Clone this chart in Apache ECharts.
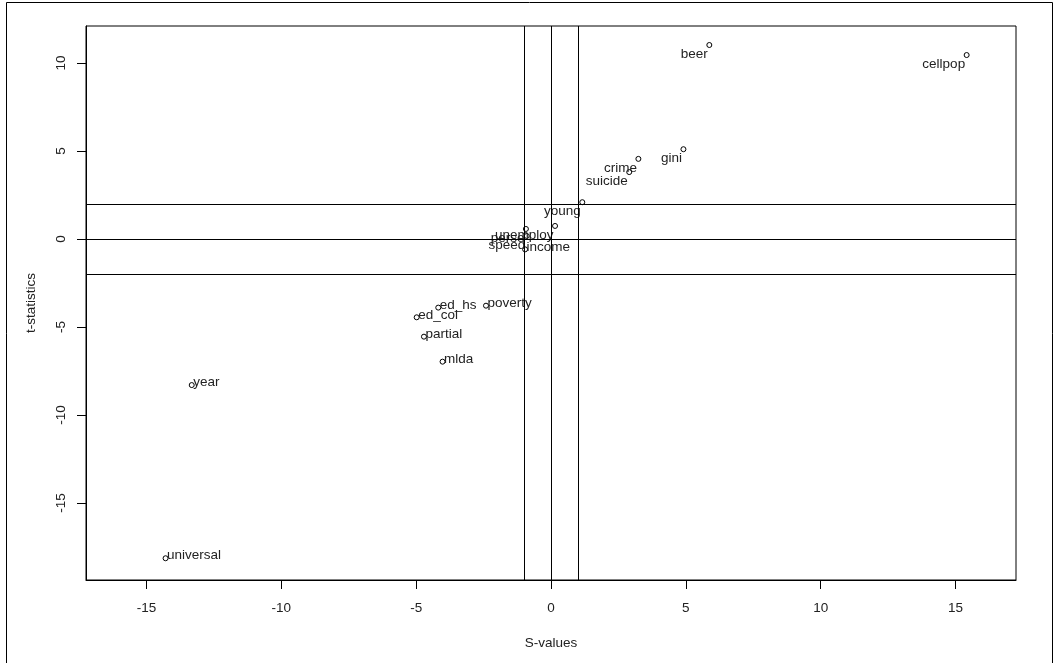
<!DOCTYPE html>
<html>
<head>
<meta charset="utf-8">
<script src="https://cdn.jsdelivr.net/npm/echarts@6/dist/echarts.min.js"></script>
<style>
html,body{margin:0;padding:0;background:#fff;}
#chart{width:1058px;height:663px;}
</style>
</head>
<body>
<div id="chart"></div>
<script>
// Data
const names   = ['beer','cellpop','gini','crime','suicide','young','unemploy','perse','speed','income','poverty','ed_hs','ed_col','partial','mlda','year','universal'];
const sValues = [5.87, 15.41, 4.91, 3.24, 2.90, 1.16, 0.15, -0.93, -0.90, -0.96, -2.41, -4.18, -4.98, -4.71, -4.02, -13.32, -14.29];
const tValues = [11.02, 10.45, 5.10, 4.55, 3.80, 2.09, 0.74, 0.57, 0.17, -0.59, -3.79, -3.90, -4.45, -5.55, -6.97, -8.30, -18.14];
const xTicks = [-15, -10, -5, 0, 5, 10, 15];
const yTicks = [-15, -10, -5, 0, 5, 10];
const vLines = [-1, 0, 1];
const hLines = [-2, 0, 2];

const FONT = 'Liberation Sans, Arial, sans-serif';
const FS = 13.5;
const SYM = 5;

const data = names.map((n, i) => {
  const pos = tValues[i] >= 0;
  return {
    name: n,
    value: [sValues[i], tValues[i]],
    label: pos
      ? {position: [SYM/2 - 1, SYM/2 + 3], align: 'right', verticalAlign: 'top'}
      : {position: [SYM/2 + 2, SYM/2 + 5], align: 'left', verticalAlign: 'bottom'}
  };
});

const chart = echarts.init(document.getElementById('chart'), null, {renderer: 'canvas'});
chart.setOption({
  animation: false,
  backgroundColor: '#fff',
  graphic: [{
    type: 'rect', silent: true,
    shape: {x: 6.5, y: 2.5, width: 1046, height: 700},
    style: {fill: 'none', stroke: '#000', lineWidth: 1}
  }],
  grid: {left: 86, right: 42, top: 26, bottom: 83, show: true, borderColor: '#000', borderWidth: 1, containLabel: false},
  xAxis: {
    type: 'value', min: -17.24, max: 17.24,
    name: 'S-values', nameLocation: 'middle', nameGap: 56,
    nameTextStyle: {color: '#222', fontSize: FS, fontFamily: FONT},
    splitLine: {show: false},
    axisLine: {show: true, onZero: false, lineStyle: {color: '#000', width: 1}},
    axisTick: {show: true, inside: false, customValues: xTicks, length: 9, lineStyle: {color: '#000'}},
    axisLabel: {customValues: xTicks, margin: 21, color: '#222', fontSize: FS, fontFamily: FONT}
  },
  yAxis: {
    type: 'value', min: -19.375, max: 12.10,
    name: 't-statistics', nameLocation: 'middle', nameGap: 48, nameRotate: 90,
    nameTextStyle: {color: '#222', fontSize: FS, fontFamily: FONT},
    splitLine: {show: false},
    axisLine: {show: true, onZero: false, lineStyle: {color: '#000', width: 1}},
    axisTick: {show: true, inside: false, customValues: yTicks, length: 9, lineStyle: {color: '#000'}},
    axisLabel: {customValues: yTicks, rotate: 90, margin: 25, color: '#222', fontSize: FS, fontFamily: FONT,
      verticalAlign: 'middle', align: 'center'}
  },
  series: [{
    type: 'scatter',
    symbol: 'circle',
    symbolSize: SYM,
    itemStyle: {color: '#fff', borderColor: '#000', borderWidth: 1, opacity: 1},
    label: {show: true, formatter: p => p.name, color: '#222', fontSize: FS, fontFamily: FONT},
    labelLayout: {hideOverlap: false},
    data: data,
    z: 3,
    markLine: {
      silent: true, symbol: 'none', animation: false,
      label: {show: false},
      lineStyle: {color: '#000', width: 1, type: 'solid'},
      data: vLines.map(v => ({xAxis: v})).concat(hLines.map(v => ({yAxis: v})))
    }
  }]
});
</script>
</body>
</html>
